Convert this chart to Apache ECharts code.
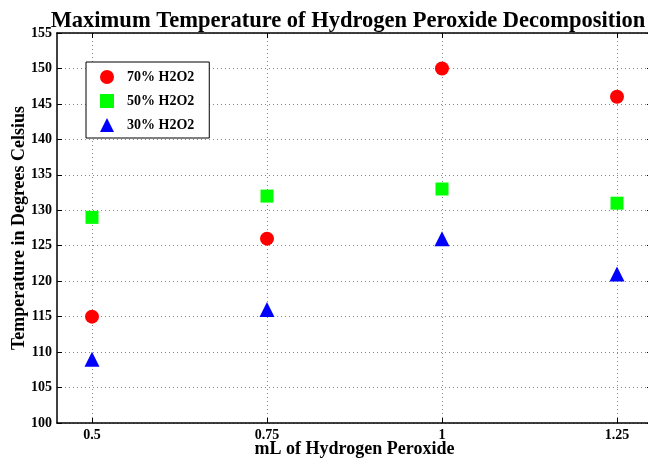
<!DOCTYPE html>
<html>
<head>
<meta charset="utf-8">
<script src="https://cdn.jsdelivr.net/npm/echarts@6/dist/echarts.min.js"></script>
<style>
  html, body { margin: 0; padding: 0; background: #fff; }
  #main { width: 648px; height: 462px; }
</style>
</head>
<body>
<div id="main"></div>
<script>
// volumes (mL) and max temperatures
var volumes = [0.5, 0.75, 1, 1.25];
var temp70 = [115, 126, 150, 146];
var temp50 = [129, 132, 133, 131];
var temp30 = [109, 116, 126, 121];
var xTicks = [0.5, 0.75, 1, 1.25];

function pairs(ys) {
  return volumes.map(function (v, i) { return [v, ys[i]]; });
}

var font = '"Liberation Serif", "Times New Roman", serif';
var myChart = echarts.init(document.getElementById('main'));

var gridLine = { show: true, lineStyle: { color: '#888', type: [1, 3], width: 1 } };
var frame = { show: true, onZero: false, lineStyle: { color: '#000', width: 1.5 } };

var option = {
  backgroundColor: '#fff',
  animation: false,
  title: {
    text: 'Maximum Temperature of Hydrogen Peroxide Decomposition',
    left: 343, top: 5, textAlign: 'center',
    textStyle: { fontFamily: font, fontWeight: 'bold', fontSize: 22.5, color: '#000' }
  },
  legend: {
    orient: 'vertical',
    left: 86, top: 62,
    padding: [8, 15, 6, 14],
    itemGap: 10,
    itemWidth: 14, itemHeight: 14,
    borderColor: '#000', borderWidth: 1, backgroundColor: '#fff',
    textStyle: { fontFamily: font, fontWeight: 'bold', fontSize: 14, color: '#000', padding: [0, 0, 0, 8] },
    data: [
      { name: '70% H2O2', icon: 'circle' },
      { name: '50% H2O2', icon: 'rect' },
      { name: '30% H2O2', icon: 'triangle' }
    ]
  },
  grid: { left: 57, top: 33, width: 595, height: 390, outerBoundsMode: 'none' },
  xAxis: [{
    type: 'value', min: 0.45, max: 1.3,
    name: 'mL of Hydrogen Peroxide', nameLocation: 'middle', nameGap: 17, nameMoveOverlap: false,
    nameTextStyle: { fontFamily: font, fontWeight: 'bold', fontSize: 18, color: '#000' },
    axisLine: frame,
    axisTick: { show: true, inside: true, length: 5, customValues: xTicks, lineStyle: { color: '#000' } },
    axisLabel: { customValues: xTicks, margin: 5, fontFamily: font, fontWeight: 'bold', fontSize: 14, color: '#000',
      formatter: function (v) { return String(v); } },
    splitLine: gridLine
  }, {
    type: 'value', position: 'top', min: 0.45, max: 1.3,
    axisLine: frame,
    axisTick: { show: true, inside: true, length: 5, customValues: xTicks, lineStyle: { color: '#000' } },
    axisLabel: { show: false, customValues: xTicks },
    splitLine: { show: false }
  }],
  yAxis: [{
    type: 'value', min: 100, max: 155, interval: 5,
    name: 'Temperature in Degrees Celsius', nameLocation: 'middle', nameGap: 29, nameMoveOverlap: false,
    nameTextStyle: { fontFamily: font, fontWeight: 'bold', fontSize: 18, color: '#000' },
    axisLine: frame,
    axisTick: { show: true, inside: true, length: 5, lineStyle: { color: '#000' } },
    axisLabel: { margin: 5, fontFamily: font, fontWeight: 'bold', fontSize: 14, color: '#000' },
    splitLine: gridLine
  }, {
    type: 'value', position: 'right', min: 100, max: 155, interval: 5,
    axisLine: frame,
    axisTick: { show: true, inside: true, length: 5, lineStyle: { color: '#000' } },
    axisLabel: { show: false },
    splitLine: { show: false }
  }],
  series: [
    { name: '70% H2O2', type: 'scatter', symbol: 'circle', symbolSize: 14,
      itemStyle: { color: '#ff0000', opacity: 1 }, data: pairs(temp70) },
    { name: '50% H2O2', type: 'scatter', symbol: 'rect', symbolSize: 13,
      itemStyle: { color: '#00ff00', opacity: 1 }, data: pairs(temp50) },
    { name: '30% H2O2', type: 'scatter', symbol: 'triangle', symbolSize: 15,
      itemStyle: { color: '#0000ff', opacity: 1 }, data: pairs(temp30) }
  ]
};

myChart.setOption(option);
</script>
</body>
</html>
